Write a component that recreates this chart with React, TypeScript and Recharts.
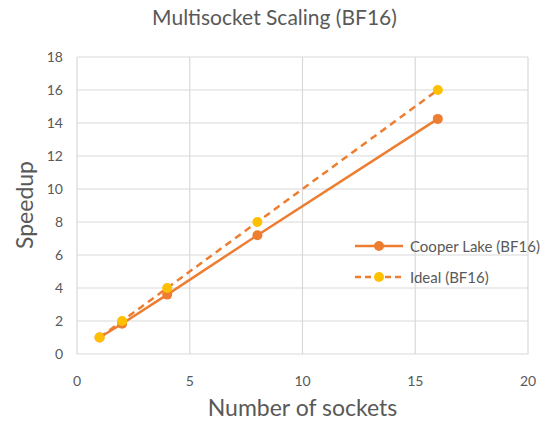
import { LineChart, Line, XAxis, YAxis, CartesianGrid } from 'recharts';

const sockets = [1, 2, 4, 8, 16];
const cooperLake = [1, 1.83, 3.6, 7.2, 14.25];
const ideal = [1, 2, 4, 8, 16];
const xTicks = [0, 5, 10, 15, 20];
const yTicks = [0, 2, 4, 6, 8, 10, 12, 14, 16, 18];

const data = sockets.map((s, i) => ({ sockets: s, cooper: cooperLake[i], ideal: ideal[i] }));

const FONT = 'Lato, "Noto Sans", sans-serif';
const TEXT = '#595959';
const ORANGE = '#ED7D31';
const GOLD = '#FFC000';

function LegendBox() {
  const row = (dash: boolean, dot: string, label: string) => (
    <div style={{ display: 'flex', alignItems: 'center', height: 31 }}>
      <svg width={50} height={12} style={{ marginRight: 5 }}>
        <line x1={0} y1={6} x2={48} y2={6} stroke={ORANGE} strokeWidth={2.5} strokeDasharray={dash ? '6 4' : undefined} />
        <circle cx={24} cy={6} r={5} fill={dot} />
      </svg>
      <span style={{ fontSize: 15, color: TEXT, fontFamily: FONT }}>{label}</span>
    </div>
  );
  return (
    <div style={{ position: 'absolute', left: 355, top: 230, width: 190 }}>
      {row(false, ORANGE, 'Cooper Lake (BF16)')}
      {row(true, GOLD, 'Ideal (BF16)')}
    </div>
  );
}

export default function App() {
  return (
    <div style={{ position: 'absolute', left: 0, top: 0, width: 549, height: 422, background: '#fff', fontFamily: FONT }}>
      <LineChart width={549} height={422} data={data} margin={{ top: 57, right: 21, left: 29, bottom: 38 }}>
        <CartesianGrid stroke="#d9d9d9" strokeWidth={1.2} />
        <XAxis
          dataKey="sockets"
          type="number"
          domain={[0, 20]}
          ticks={xTicks}
          axisLine={false}
          tickLine={false}
          tick={{ fill: TEXT, fontSize: 14, fontFamily: FONT }}
          tickMargin={16}
          height={30}
        />
        <YAxis
          type="number"
          domain={[0, 18]}
          ticks={yTicks}
          axisLine={false}
          tickLine={false}
          tick={{ fill: TEXT, fontSize: 14, fontFamily: FONT }}
          tickMargin={8}
          width={48}
        />
        <Line
          dataKey="cooper"
          name="Cooper Lake (BF16)"
          stroke={ORANGE}
          strokeWidth={2.5}
          dot={{ r: 5, fill: ORANGE, stroke: ORANGE, strokeWidth: 0 }}
          isAnimationActive={false}
        />
        <Line
          dataKey="ideal"
          name="Ideal (BF16)"
          stroke={ORANGE}
          strokeWidth={2.5}
          strokeDasharray="7 5"
          dot={{ r: 5, fill: GOLD, stroke: GOLD, strokeWidth: 0 }}
          isAnimationActive={false}
        />
      </LineChart>
      <div style={{ position: 'absolute', top: 4, width: 549, textAlign: 'center', fontSize: 21, color: TEXT }}>
        Multisocket Scaling (BF16)
      </div>
      <div style={{ position: 'absolute', top: 393, left: 77, width: 451, textAlign: 'center', fontSize: 23, color: TEXT }}>
        Number of sockets
      </div>
      <div
        style={{
          position: 'absolute',
          left: 24,
          top: 205,
          transform: 'translate(-50%, -50%) rotate(-90deg)',
          whiteSpace: 'nowrap',
          fontSize: 23,
          color: TEXT,
        }}
      >
        Speedup
      </div>
      <LegendBox />
    </div>
  );
}
